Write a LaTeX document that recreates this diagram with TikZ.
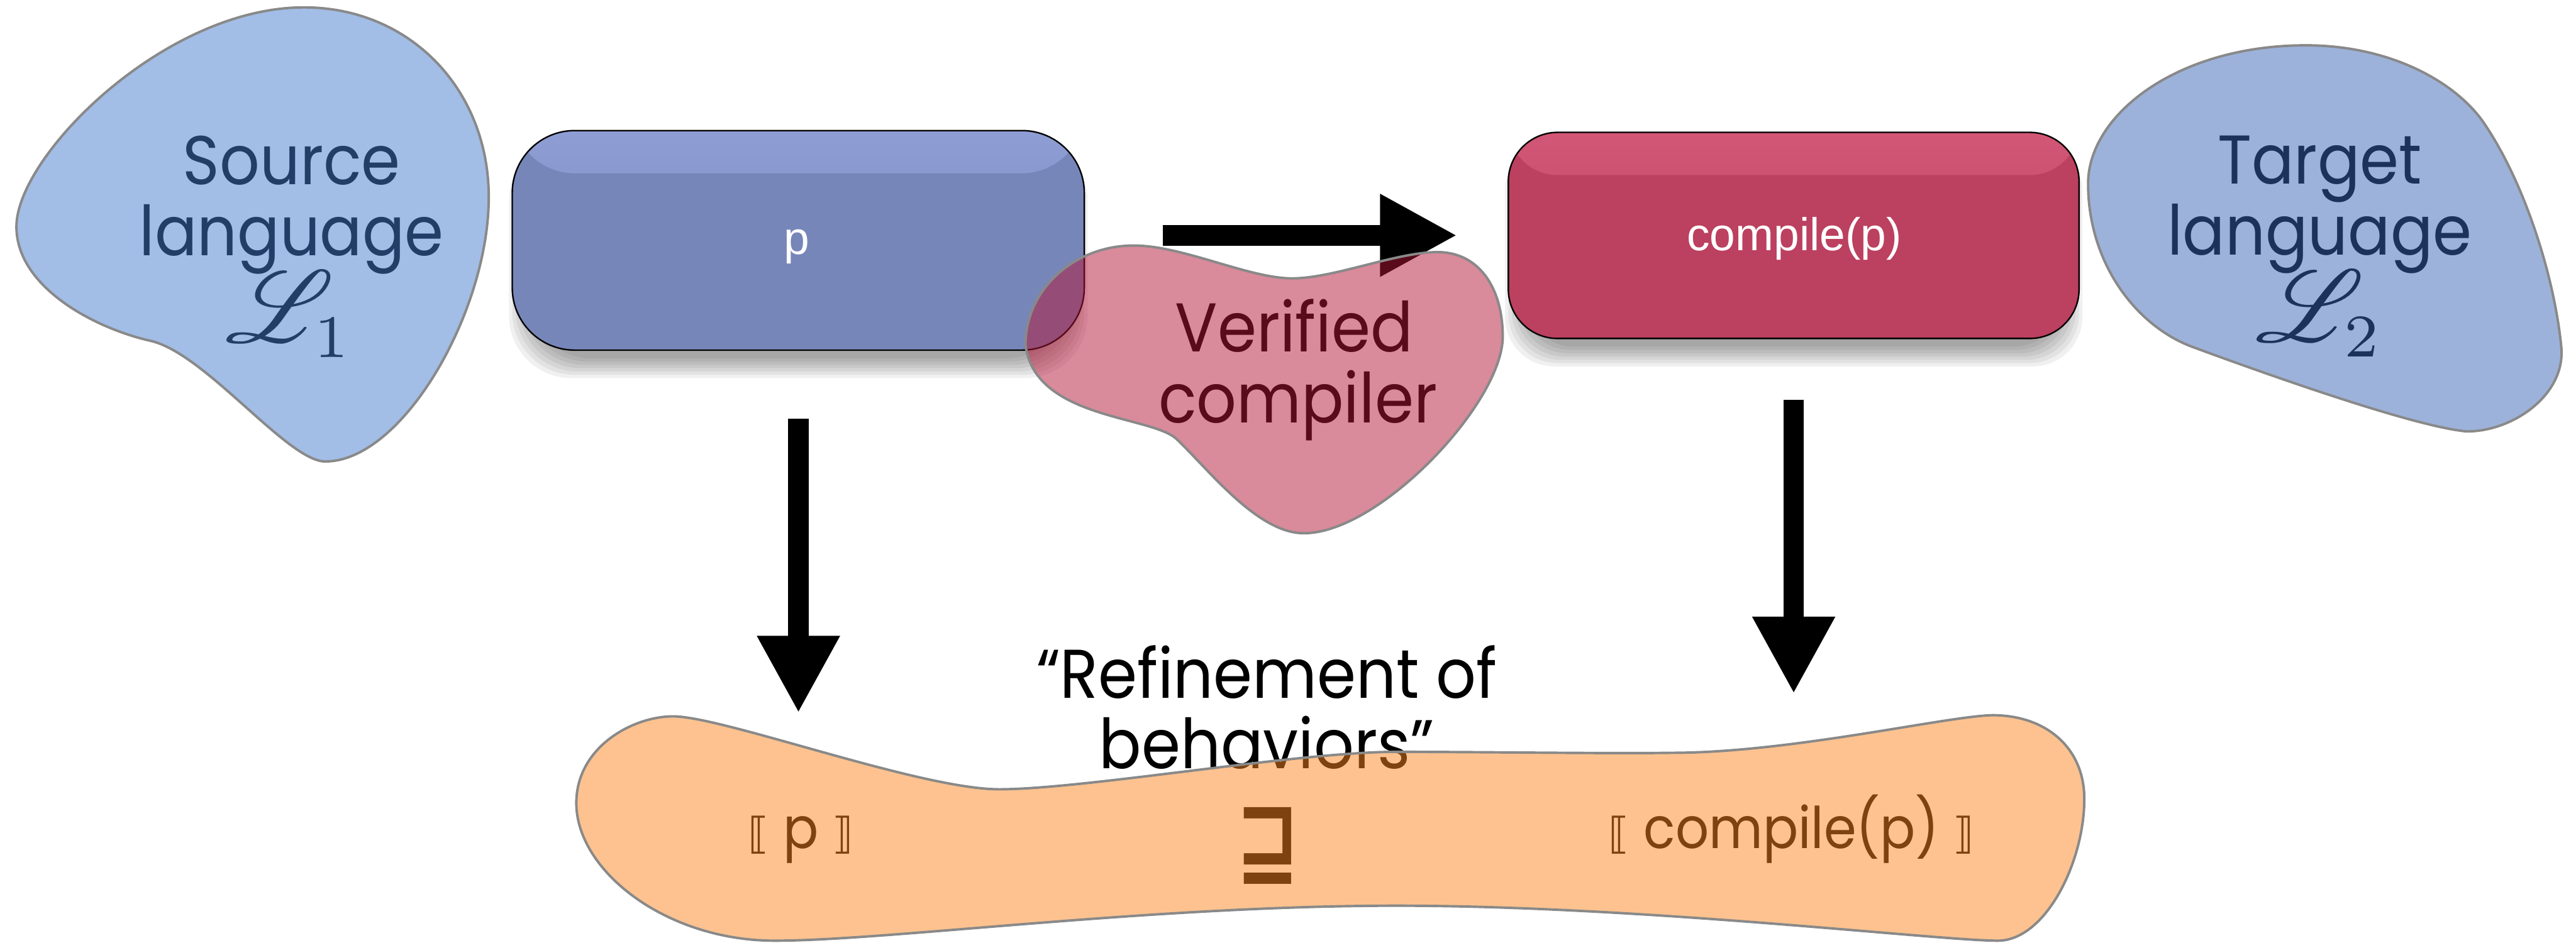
\documentclass[tikz,border=0pt]{standalone}
\usepackage{fontspec}
\setmainfont{Poppins}[FakeStretch=0.91]
\newfontfamily\arialfont{Liberation Sans}
\newfontfamily\symfont{DejaVu Sans}
\usepackage{mathrsfs}
\usepackage{graphicx}
\usetikzlibrary{arrows.meta}

\definecolor{srcblue}{RGB}{69,123,205}
\definecolor{tgtblue}{RGB}{59,101,181}
\definecolor{pinkblob}{RGB}{179,21,55}
\definecolor{orangeblob}{RGB}{251,133,31}
\definecolor{blobline}{RGB}{137,137,137}
\definecolor{pfill}{RGB}{119,134,185}
\definecolor{ptop}{RGB}{142,157,212}
\definecolor{cfill}{RGB}{188,64,95}
\definecolor{ctop}{RGB}{210,86,118}

\tikzset{
  blob/.style={draw=blobline, line width=1.5pt, fill opacity=0.5},
  bigtext/.style={font=\fontsize{42}{44}\selectfont, anchor=base, inner sep=0pt},
  midtext/.style={font=\fontsize{42}{44}\selectfont, anchor=base, inner sep=0pt},
  semtext/.style={font=\fontsize{35}{37}\selectfont, anchor=base, inner sep=0pt},
  boxtext/.style={font=\arialfont\fontsize{28}{30}\selectfont, text=white, anchor=base, inner sep=0pt},
  bigarrow/.style={line width=12.5pt, -{Triangle[length=47pt,width=47pt]}},
  progbox/.style={draw=black, line width=0.9pt, rounded corners=#1, inner sep=0pt},
  softshadow/.style={fill=black, fill opacity=0.06, rounded corners=#1},
}
\newcommand{\scriptL}[1]{{\fontsize{10}{12}\selectfont\scalebox{6.2}{$\mathscr{L}_{\scalebox{0.85}{$\scriptstyle #1$}}$}}}
\newcommand{\semopen}{{\symfont\fontsize{26}{28}\selectfont ⟦}}
\newcommand{\semclose}{{\symfont\fontsize{26}{28}\selectfont ⟧}}

\begin{document}
\begin{tikzpicture}[x=1pt, y=-1pt]
\useasboundingbox (0,0) rectangle (1568,574);

% ---------- labels that sit beneath the translucent blobs ----------
\node[bigtext] (src1) at (177.5,112.4) {Source};
\node[bigtext] (src2) at (177.5,155.5) {language};
\node[bigtext] (src3) at (176.3,208.3) {\scriptL{1}};

\node[bigtext] (tgt1) at (1412,111.8) {Target};
\node[bigtext] (tgt2) at (1412,155.2) {language};
\node[bigtext] (tgt3) at (1412,208.1) {\scriptL{2}};

\node[bigtext] (ver1) at (787.7,214) {Verified};
\node[bigtext] (ver2) at (790,257.4) {compiler};

\node[midtext] (ref1) at (771,425) {“Refinement of};
\node[midtext] (ref2) at (771,468) {behaviors”};

\node[semtext] (semp) at (487.5,516.6) {\semopen\ p \semclose};
\node[semtext] (semc) at (1090.5,516.6) {\semopen\ compile(p) \semclose};
\node[inner sep=0pt] (sqsup) at (771.5,515.2) {\scalebox{1}[1.3]{\symfont\bfseries\fontsize{46}{48}\selectfont ⊒}};

% ---------- program boxes with soft shadows ----------
\foreach \e in {-6,-4,...,6}{
  \path[softshadow=38pt] ({315.8-\e},{90.5-\e}) rectangle ({656+\e},{224.2+\e});
  \path[softshadow=30pt] ({922.1-\e},{91.6-\e}) rectangle ({1261.5+\e},{217.1+\e});
}

\node[progbox=38pt, fill=pfill, minimum width=348.2pt, minimum height=133.7pt,
      path picture={\shade[top color=ptop, bottom color=pfill]
        (path picture bounding box.north west) rectangle
        ([yshift=-26pt]path picture bounding box.north east);}]
  (pbox) at (485.9,146.35) {};
\node[progbox=30pt, fill=cfill, minimum width=347.4pt, minimum height=125.5pt,
      path picture={\shade[top color=ctop, bottom color=cfill]
        (path picture bounding box.north west) rectangle
        ([yshift=-26pt]path picture bounding box.north east);}]
  (cbox) at (1091.8,143.35) {};

\node[boxtext] (ptxt) at (484.8,155) {p};
\node[boxtext] (ctxt) at (1092.2,152.6) {compile(p)};

% ---------- block arrows ----------
\coordinate (compS) at (707.7,143.3);
\coordinate (compE) at (887,143.3);
\coordinate (semLS) at (486,255);
\coordinate (semLE) at (486,434.2);
\coordinate (semRS) at (1091.8,243.3);
\coordinate (semRE) at (1091.8,422.5);
\draw[bigarrow] (compS) -- (compE);
\draw[bigarrow] (semLS) -- (semLE);
\draw[bigarrow] (semRS) -- (semRE);

% ---------- translucent blobs ----------
% source language
\path[blob, fill=srcblue]
  (185,4.5) .. controls (250,4.5) and (297.5,55) .. (297.5,120)
  .. controls (297.5,190) and (245,281) .. (198,281)
  .. controls (175,281) and (125,215) .. (91.5,207.5)
  .. controls (58,200) and (10,175) .. (10,138)
  .. controls (10,95) and (100,4.5) .. cycle;

% target language
\path[blob, fill=tgtblue]
  (1403.6,27.6) .. controls (1455,27.6) and (1495,50) .. (1512,75)
  .. controls (1537.5,112.5) and (1555,170) .. (1559,211)
  .. controls (1562,240) and (1530,262.7) .. (1501.6,262.7)
  .. controls (1470,260) and (1380,228) .. (1334.7,211.3)
  .. controls (1300,198.5) and (1271,160) .. (1271,111.8)
  .. controls (1271,70) and (1325,27.6) .. cycle;

% verified compiler
\path[blob, fill=pinkblob]
  (690,149.5) .. controls (720,149.5) and (760,169.5) .. (786.5,169.5)
  .. controls (812,169.5) and (850,153.5) .. (875,153.5)
  .. controls (900,153.5) and (914.7,175) .. (914.7,205)
  .. controls (914.7,245) and (840,324.7) .. (793.6,324.7)
  .. controls (765,324.7) and (735,285) .. (715.9,267.1)
  .. controls (700,253) and (630,255) .. (624.2,210.2)
  .. controls (624.2,175) and (655,149.5) .. cycle;

% semantics
\path[blob, fill=orangeblob]
  (350.8,489) .. controls (350.8,455) and (385,436.2) .. (409.7,436.2)
  .. controls (440,436.2) and (560,480.6) .. (608.2,480.6)
  .. controls (660,480.6) and (790,457.8) .. (850,457.8)
  .. controls (900,457.8) and (980,459) .. (1017.5,458.4)
  .. controls (1090,458.4) and (1185,436) .. (1212.9,435.5)
  .. controls (1245,435.5) and (1268.7,455) .. (1268.7,486.5)
  .. controls (1268.7,525) and (1245,572.8) .. (1216,572.8)
  .. controls (1180,572.8) and (1000,551.5) .. (850,551.5)
  .. controls (700,551.5) and (540,572.8) .. (471.7,572.8)
  .. controls (405,572.8) and (350.8,530) .. cycle;
\end{tikzpicture}
\end{document}
